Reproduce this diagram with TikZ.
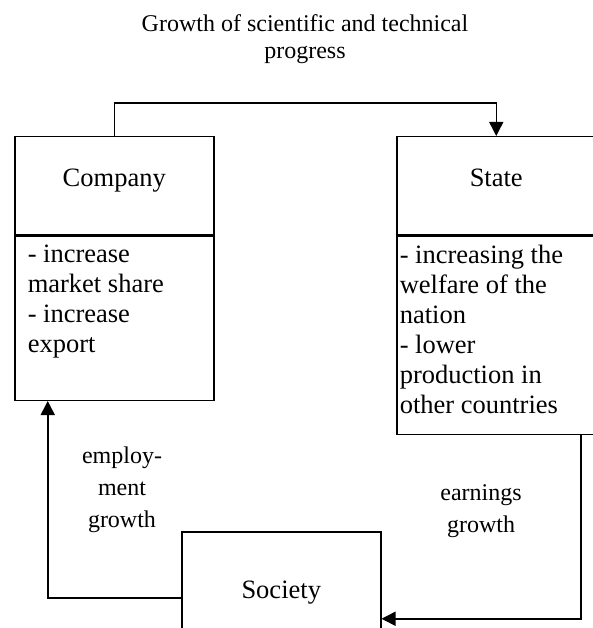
\documentclass[tikz,border=0pt]{standalone}
\usepackage{fontspec}
\setmainfont{Liberation Serif}
\usetikzlibrary{arrows.meta}
\usetikzlibrary{calc}

\begin{document}
\begin{tikzpicture}[x=1pt,y=-1pt]
		\tikzstyle{every path}=[line width=1.5pt]
		\tikzstyle{FlowSty}=[-{Triangle[length=14pt,width=14pt]}]
		\tikzstyle{headbox}=[draw, minimum width=199pt, minimum height=98pt,
								  inner sep=0pt, text height=18pt, text depth=16pt,
								  font=\fontsize{26.5}{30}\selectfont]
		\tikzstyle{goalsbox}=[draw, minimum width=199pt, inner sep=0pt,
								  font=\fontsize{26.5}{30}\selectfont]
		\tikzstyle{arrowlabel}=[align=center, font=\fontsize{24}{32}\selectfont]

\useasboundingbox (0,0) rectangle (593,628);

\node[align=center,font=\fontsize{24}{27}\selectfont] at (305,39) (title) {Growth of scientific and technical\\progress};

\node[headbox,anchor=north west] at (14,136) (company) {Company};
\node[goalsbox,anchor=north,minimum height=164pt] at (company.south) (companygoals)
  {\parbox[c][146pt][t]{173pt}{- increase\\market share\\- increase\\export}};

\node[headbox,anchor=north west] at (396,136) (state) {State};
\node[goalsbox,anchor=north,minimum height=198pt] at (state.south) (stategoals)
  {\parbox[c][180pt][t]{193pt}{- increasing the\\welfare of the\\nation\\- lower\\production in\\other countries}};

\node[headbox,anchor=north west,minimum height=132pt] at (181,531) (society) {Society};

\node[arrowlabel] at (122,490) (employlabel) {employ-\\ment\\growth};
\node[arrowlabel] at (481,511) (earninglabel) {earnings\\growth};

\draw[FlowSty] (company.north) -- ++(0,-33) -| (state.north);
\draw[FlowSty] ([xshift=84.5pt]stategoals.south) |- ([yshift=-21pt]society.east);
\draw[FlowSty] (society.west) -| ([xshift=-66.5pt]companygoals.south);

\end{tikzpicture}
\end{document}
